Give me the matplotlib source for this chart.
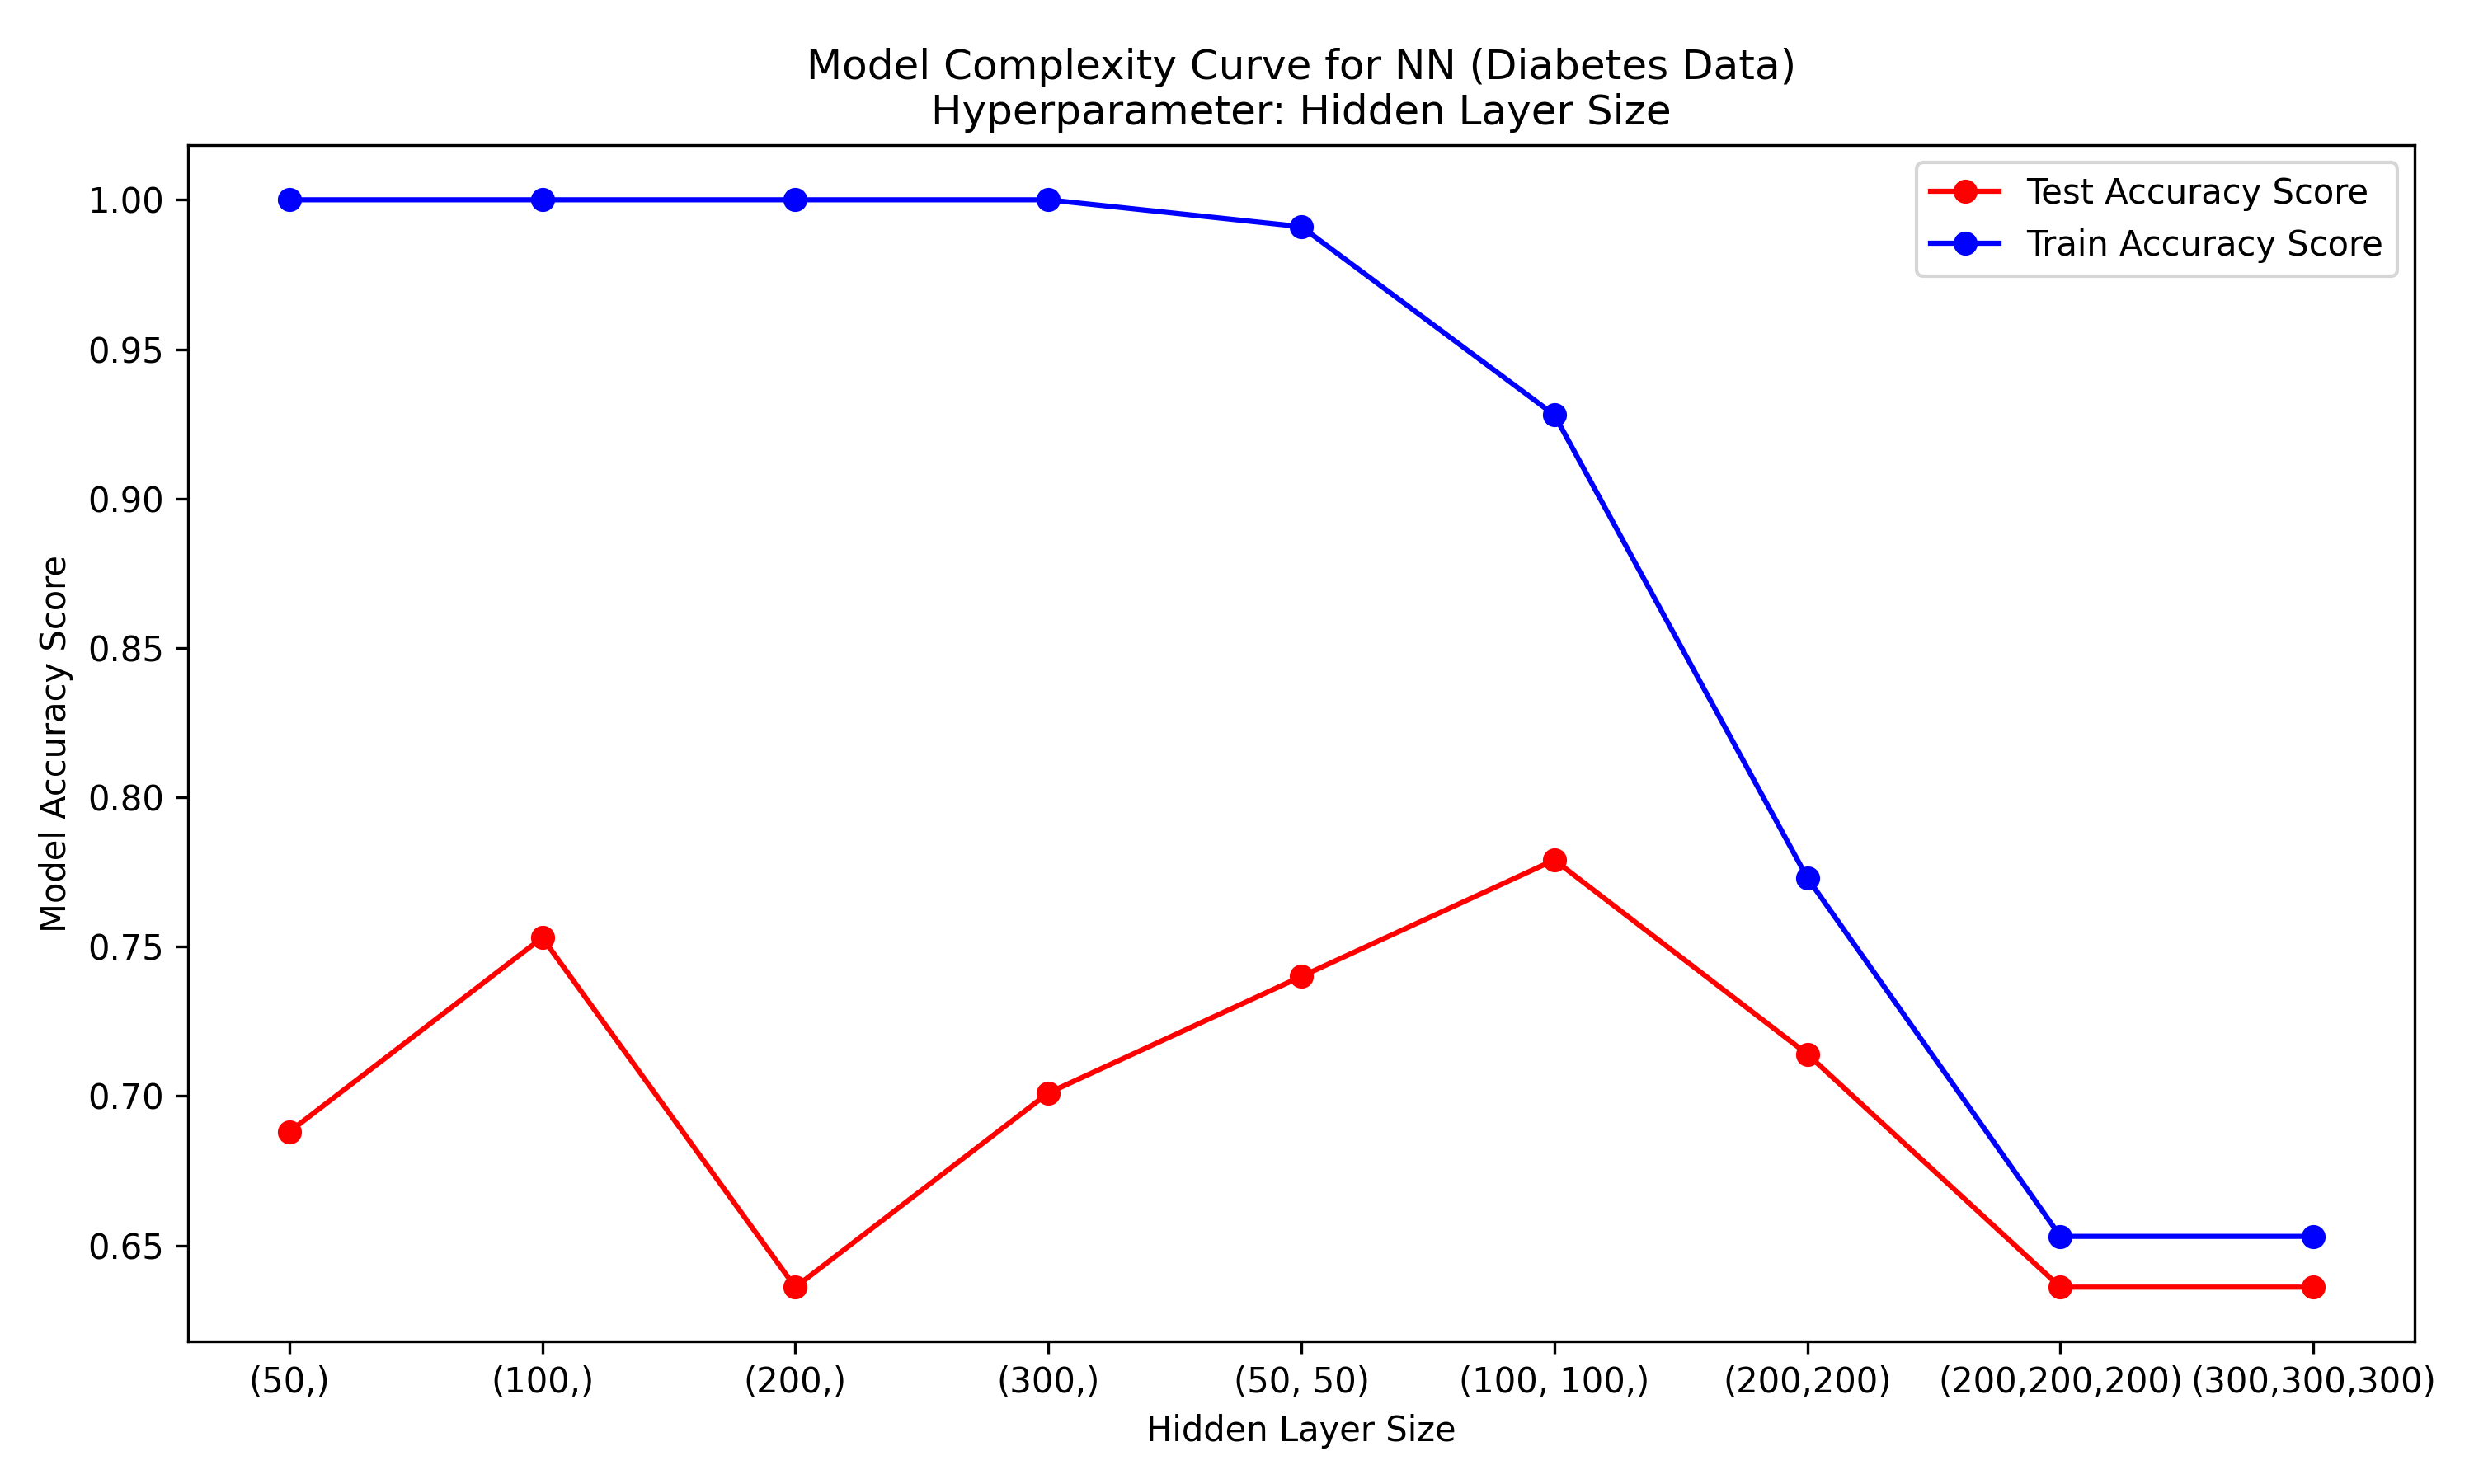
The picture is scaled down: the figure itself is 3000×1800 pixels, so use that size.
import matplotlib
matplotlib.use("Agg")
import matplotlib.pyplot as plt

layer_sizes = ["(50,)", "(100,)", "(200,)", "(300,)", "(50, 50)", "(100, 100,)",
               "(200,200)", "(200,200,200)", "(300,300,300)"]
test_scores = [0.688, 0.753, 0.636, 0.701, 0.740, 0.779, 0.714, 0.636, 0.636]
train_scores = [1.0, 1.0, 1.0, 1.0, 0.991, 0.928, 0.773, 0.653, 0.653]

fig, ax = plt.subplots(figsize=(10, 6), dpi=300)
ax.plot(layer_sizes, test_scores, "o-", color="red", label="Test Accuracy Score")
ax.plot(layer_sizes, train_scores, "o-", color="blue", label="Train Accuracy Score")
ax.set_title("Model Complexity Curve for NN (Diabetes Data)\nHyperparameter: Hidden Layer Size")
ax.set_xlabel("Hidden Layer Size")
ax.set_ylabel("Model Accuracy Score")
ax.legend(loc="upper right")
fig.subplots_adjust(left=0.076, right=0.976, top=0.902, bottom=0.096)
fig.savefig("out.png")
